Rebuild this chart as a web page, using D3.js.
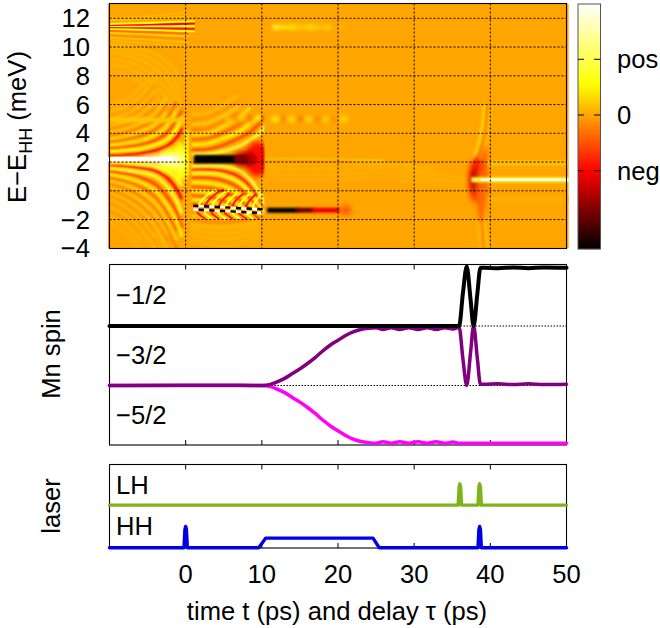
<!doctype html>
<html>
<head>
<meta charset="utf-8">
<title>Mn spin</title>
<style>
  html, body { margin: 0; padding: 0; background: #fff; }
  text { font-family: "Liberation Sans", Arial, sans-serif; fill: #000; }
</style>
</head>
<body>
<div id="chart"></div>
<script src="https://cdn.jsdelivr.net/npm/d3@7"></script>
<script>
// ticks
var timeTicks = [0, 10, 20, 30, 40, 50];
var energyTicks = [12, 10, 8, 6, 4, 2, 0, -2, -4];
var barTicks = [[1, 'pos'], [0, '0'], [-1, 'neg']];

// heat map fringes: [value, E at each t of the grid]
var leftT = [-10, -8, -6, -4, -2.5, -1.2, -0.5];
var leftUp = [
  [-1.0, 2.52, 2.56, 2.63, 2.82, 3.1, 3.7, 4.4],
  [.6, 2.72, 2.8, 2.92, 3.18, 3.55, 4.3, 5.1],
  [-.5, 2.95, 3.05, 3.2, 3.52, 4.0, 4.95, 5.6],
  [.38, 3.18, 3.3, 3.5, 3.88, 4.5, 5.6],
  [-.3, 3.4, 3.55, 3.8, 4.25, 5.0, 6.2],
  [.26, 3.62, 3.8, 4.1, 4.62, 5.5],
  [-.2, 3.85, 4.05, 4.4, 5.0, 6],
  [.18, 4.08, 4.3, 4.7, 5.4, 6.5],
  [-.13, 4.3, 4.55, 5, 5.8],
  [.14, 4.52, 4.8, 5.3, 6.2],
  [-.09, 4.75, 5.05, 5.6, 6.6],
  [.12, 5, 5.3, 5.9, 7],
  [-.07, 5.25, 5.55, 6.2, 7.4],
  [.1, 5.5, 5.8, 6.5, 7.8],
  [.08, 6, 6.3, 7.1, 8.6]
];
var leftDown = [
  [.8, 1.92, 1.9, 1.85, 1.7, 1.4, .9, .3],
  [-1.0, 1.75, 1.7, 1.6, 1.42, .95, .1, -.6],
  [.8, 1.55, 1.46, 1.3, 1.0, .35, -.7, -1.6],
  [-.55, 1.35, 1.2, .95, .45, -.4, -1.5, -2.6],
  [.42, 1.12, .92, .62, .02, -.95, -2.1, -3.2],
  [-.32, .9, .68, .28, -.42, -1.5, -2.8],
  [.26, .68, .42, -.02, -.85, -2.05, -3.5],
  [-.2, .47, .18, -.35, -1.25, -2.5, -4],
  [.18, .27, -.08, -.66, -1.65, -3],
  [-.14, .06, -.32, -.98, -2.05, -3.5],
  [.14, -.15, -.58, -1.3, -2.45, -4],
  [-.1, -.37, -.84, -1.62, -2.85],
  [.11, -.6, -1.1, -1.95, -3.25],
  [-.08, -.84, -1.36, -2.28, -3.65],
  [.09, -1.1, -1.65, -2.6, -4],
  [-.06, -1.4, -1.95, -2.95],
  [.07, -1.7, -2.3, -3.3],
  [.06, -2.2, -2.9, -3.9]
];
// weak arcs hanging under the line near 11.4 meV
var topArcs = [
  [.1, 10.2, 10.1, 9.9, 9.5, 9, 8.2, 7.4],
  [.09, 9.9, 9.8, 9.5, 9, 8.4, 7.4, 6.6],
  [.1, 9.6, 9.45, 9.1, 8.5, 7.8, 6.7, 5.9],
  [.08, 9.2, 9.05, 8.6, 7.9, 7.1, 6, 5.2],
  [.08, 8.8, 8.6, 8.1, 7.3, 6.4, 5.3],
  [.07, 8.35, 8.1, 7.55, 6.7, 5.7]
];

var topT = [-10, -6, -2, 0, 1.2];
var topFan = [
  [.1, 12.05, 12.1, 12.3, 12.4, 12.45],
  [.16, 11.88, 11.95, 12.05, 12.1, 12.12],
  [.6, 11.6, 11.66, 11.75, 11.78, 11.8],
  [-1.0, 11.47, 11.52, 11.59, 11.62, 11.63],
  [.9, 11.4, 11.42, 11.44, 11.46, 11.47],
  [-.85, 11.33, 11.31, 11.29, 11.27, 11.26],
  [.6, 11.24, 11.2, 11.14, 11.1, 11.08],
  [-.3, 11.12, 11.05, 10.98, 10.93, 10.9],
  [.25, 10.98, 10.9, 10.8, 10.75, 10.72],
  [-.12, 10.82, 10.72, 10.6, 10.55, 10.5],
  [.14, 10.65, 10.55, 10.4, 10.33, 10.3],
  [.09, 10.45, 10.3, 10.15, 10.05, 10.0]
];

var rampT = [0.8, 3, 5, 7, 8.5, 9.7, 10.4];
var rampUp = [
  [.9, 2.52, 2.56, 2.75, 3.1, 3.56, 4.0, 4.5],
  [-.55, 2.86, 2.9, 3.2, 3.66, 4.1, 4.7, 5.2],
  [.5, 3.2, 3.3, 3.66, 4.1, 4.7, 5.2],
  [-.35, 3.56, 3.67, 4.06, 4.6, 5.2],
  [.34, 3.9, 4.0, 4.5, 5.1, 5.8],
  [-.2, 4.25, 4.37, 4.85, 5.4],
  [.22, 4.6, 4.75, 5.25, 5.9],
  [-.1, 4.95, 5.1, 5.6, 6.2],
  [.12, 5.3, 5.45, 6, 6.7]
];
var rampDown = [
  [.9, 1.71, 1.76, 1.71, 1.43, .78, -.14, -1],
  [-.8, 1.48, 1.48, 1.36, .97, .27, -.72, -1.4],
  [.7, 1.2, 1.2, 1.06, .6, -.14, -1.07, -1.5],
  [-.55, .9, .9, .71, .2, -.56, -1.42],
  [.5, .6, .55, .32, -.2, -.95, -1.65],
  [-.45, .27, .22, -.04, -.6, -1.35],
  [.45, -.04, -.1, -.37, -.95, -1.65],
  [-.45, -.35, -.43, -.7, -1.3],
  [.45, -.62, -.72, -1, -1.55],
  [-.45, -.9, -1.02, -1.3]
];
// weak arcs under the checked line
var lowT = [0.8, 3, 5, 7, 8.5, 9.7];
var rampLow = [
  [.22, -1.75, -1.85, -1.85, -1.8, -1.7, -1.6],
  [-.14, -2, -2.15, -2.2, -2.1, -2, -1.85],
  [.14, -2.35, -2.5, -2.55, -2.45, -2.3, -2.1],
  [.1, -2.7, -2.9, -2.95, -2.85, -2.65, -2.4],
  [.09, -3.05, -3.3, -3.35, -3.25, -3, -2.75],
  [.08, -3.45, -3.7, -3.8, -3.65, -3.4, -3.1]
];
// arcs crossing the fringes above the checked line: [value, t at each E of the grid]
var crossE = [-1.15, -.8, -.5, -.2, .1];
var crossUp = [
  [.75, 1.6, 1.9, 2.4, 3.1, 4],
  [-.8, 2.5, 2.8, 3.3, 4, 5],
  [.75, 3.4, 3.7, 4.2, 4.9, 5.9],
  [-.8, 4.3, 4.6, 5.1, 5.8],
  [.75, 5.2, 5.5, 6, 6.7],
  [-.8, 6.1, 6.4, 6.9, 7.6],
  [.75, 7, 7.3, 7.8, 8.4],
  [-.8, 7.9, 8.2, 8.7, 9.3],
  [.75, 8.8, 9.1, 9.5, 10]
];
var crossBelowE = [-1.5, -1.7, -1.95];
var crossDown = [
  [-.8, 1.5, 1.9, 2.6], [.7, 2.4, 2.8, 3.5], [-.8, 3.3, 3.7, 4.4],
  [.7, 4.2, 4.6, 5.3], [-.8, 5.1, 5.5, 6.2], [.7, 6, 6.4, 7.1],
  [-.8, 6.9, 7.3, 8], [.7, 7.8, 8.2, 8.9], [-.5, 8.7, 9.1, 9.7]
];

// faint stripes after the ramp and around the second pulse
var postT = [10.3, 14, 18, 22, 26, 30, 33];
var postRows = [
  [.3, 2.2, 2.18, 2.16, 2.14, 2.1],
  [-.3, 2.08, 2.06, 2.04, 2.02],
  [.16, 1.95, 1.9, 1.88, 1.86, 1.85, 1.85],
  [.1, 1.6, 1.5, 1.5, 1.55, 1.6, 1.65, 1.68],
  [.08, 1.2, 1.1, 1.1, 1.2, 1.3, 1.38, 1.42],
  [.07, .8, .7, .72, .84, .98, 1.1, 1.18]
];
var lateT = [28, 31, 33, 35, 36.5];
var lateRows = [
  [.1, 1.35, 1.28, 1.16, .98, .85],
  [.1, .98, .9, .8, .66, .55],
  [.08, .65, .55, .45, .36, .3]
];
var sideE = [-4, -3, -2, -1, 0];
var sideDown = [
  [.2, 39.6, 39.45, 39.3, 39.25, 39.1],
  [-.2, 39.15, 39, 38.85, 38.75, 38.6],
  [.14, 38.7, 38.5, 38.3, 38.15, 38]
];
var sideUpE = [2, 3, 4, 5, 6];
var sideUp = [
  [.32, 37.5, 38.3, 38.8, 39.05, 39.2],
  [-.22, 38.1, 38.8, 39.25, 39.45, 39.6],
  [.14, 38.6, 39.3, 39.7, 39.9, 40]
];

// glows: [t, E, half width in ps, half height in meV, value]
var glows = [
  [-1.5, 2.1, 2.3, .9, .62],
  [-.7, 2, 1, 1.4, .6],
  [-1, 2.1, 1, .45, 1.25],
  [-3, 2.18, 2.6, .28, 1.6],
  [9.4, 2.2, 1.6, 1.2, -.95],
  [7.8, 2.2, 1.6, .55, -1.4],
  [38.2, .75, 1, 1.6, -.85],
  [37.9, .75, .6, .85, -1.3],
  [39.2, .9, .5, 2.2, -.45],
  [38.8, -.4, .6, 1.8, -.35],
  [20.7, 5, .7, .3, .26],
  [21, -1.35, .8, .35, -.45],
  [20.4, 11.4, .5, .2, .12]
];

// spots along the weak lines: [t, E, value]
var spots = [
  [5.6, 5, .22], [6.6, 5, -.22], [7.6, 5, .28], [8.5, 5, -.28], [9.5, 5, .32],
  [11.8, 5, .55], [12.8, 5, -.3], [13.9, 5, .45], [15, 5, -.3], [16.2, 5, .38],
  [17.3, 5, -.28], [18.4, 5, .32], [19.4, 5, -.18],
  [11.9, 11.38, .85], [13, 11.38, .42], [14.1, 11.38, .5], [15.2, 11.38, .3],
  [16.4, 11.38, .45], [17.4, 11.38, .25], [18.6, 11.38, .36]
];

// strong lines: [t start, t end, E, value]
var darkBands = [
  [1.1, 6.8, 2.2, -2.4],
  [6.4, 8.2, 2.2, -1.7],
  [10.7, 15, -1.35, -2.4],
  [14.6, 17, -1.35, -1.8],
  [16.6, 20.2, -1.35, -1.1]
];
var whiteBands = [
  [-10.3, -1.4, 2.2, 2],
  [38.8, 50.5, .77, 2]
];
var yellowBands = [
  [37.5, 39, .77, .9],
  [38.8, 50.5, .77, .7],
  [39.6, 50.5, 1.93, .18],
  [39.6, 50.5, -.6, .06],
  [-10.3, 0, 4.92, .2]
];
var zeroStripe = [[0.15, 1.1, .45], [0.15, 4.2, .45]];

// checked line between the fringes: cell starts, values flip along it
var checkerStarts = [1, 1.7, 2.4, 3.1, 3.8, 4.5, 5.2, 5.9, 6.6, 7.3, 8, 8.7, 9.4];
var checkerEnds = [[1, -1.17], [10.2, -1.42]];

// spin panel
var spinT = [-10, 0, 5, 9.5, 10.5, 11, 12, 13, 14, 15, 16, 17, 18, 19, 20, 21, 22, 23, 24, 25, 25.9, 27, 28.1, 29.3, 30.5, 31.7, 32.9, 34, 35.1, 35.9, 36.4, 36.9, 37.4, 37.8, 38.3, 38.7, 39.2, 41, 43, 45, 47, 50];
var spinDown = [0, 0, 0, 0, -.005, -.015, -.06, -.12, -.2, -.28, -.37, -.47, -.58, -.68, -.76, -.84, -.9, -.94, -.96, -.97, -.945, -.97, -.945, -.97, -.945, -.97, -.945, -.97, -.95, -.97, -.97, -.97, -.97, -.97, -.97, -.97, -.97, -.97, -.97, -.97, -.97, -.97];
var spinMid = [0, .003, .006, 0, .005, .015, .06, .12, .2, .28, .37, .47, .58, .68, .76, .84, .9, .94, .96, .97, .94, .97, .94, .97, .94, .97, .94, .97, .95, .98, .45, 0, .55, 1, .45, .02, .02, .03, .015, .03, .015, .02];
var spinUp = [1, 1, 1, 1, 1, 1, 1, 1, 1, 1, 1, 1, 1, 1, 1, 1, 1, 1, 1, 1, 1, 1, 1, 1, 1, 1, 1, 1, 1, 1, 1.55, 2, 1.45, 1, 1.55, 1.98, 1.98, 1.97, 1.985, 1.97, 1.985, 1.98];
var spinGuides = [0, 1];
var spinLabels = [[1.52, '\u22121/2'], [.51, '\u22123/2'], [-.49, '\u22125/2']];

// laser panel
var hhT = [-10, -.22, -.1, 0, .1, .22, 9.6, 10.5, 24.6, 25.4, 38.38, 38.5, 38.6, 38.7, 38.82, 50];
var hhV = [0, 0, .85, 1, .85, 0, 0, .45, .45, 0, 0, .85, 1, .85, 0, 0];
var lhT = [-10, 35.78, 35.9, 36, 36.1, 36.22, 38.38, 38.5, 38.6, 38.7, 38.82, 50];
var lhV = [2, 2, 2.85, 3, 2.85, 2, 2, 2.85, 3, 2.85, 2, 2];
var laserLabels = [[2.94, 'LH'], [1.02, 'HH']];

var width = 660, height = 628;
var fontSize = 25.6;

var svg = d3.select('#chart').append('svg')
    .attr('width', width)
    .attr('height', height);
var defs = svg.append('defs');

function blur(id, dev) {
  defs.append('filter').attr('id', id)
      .attr('filterUnits', 'userSpaceOnUse')
      .attr('x', 0).attr('y', 0).attr('width', width).attr('height', height)
      .append('feGaussianBlur').attr('stdDeviation', dev);
}
blur('tiny', .45);
blur('mid', .7);
blur('soft', 1.05);
blur('wide', 2.6);
blur('spot', 2);

// Scale
var x = d3.scaleLinear().domain([-10, 50]).range([109.5, 566.5]);
var yE = d3.scaleLinear().domain([12, -4]).range([18.3, 248.3]);
var ySpin = d3.scaleLinear().domain([0, 1]).range([385.5, 326]);
var yLaser = d3.scaleLinear().domain([0, 1]).range([547.7, 526.4]);
var yBar = d3.scaleLinear().domain([0, 1]).range([115, 59.3]);
var heat = d3.scaleLinear()
    .domain([-2.4, -1, 0, .55, 2])
    .range(['#000000', '#ff0000', '#ffa500', '#ffff00', '#ffffff'])
    .clamp(true);

var heatTop = 3.5, heatBottom = 248.5;
var panel2Top = 264.5, panel2Bottom = 445;
var panel3Top = 464.5, panel3Bottom = 548;

function clip(id, t0, t1) {
  defs.append('clipPath').attr('id', id).append('rect')
      .attr('x', x(t0)).attr('y', heatTop)
      .attr('width', x(t1) - x(t0)).attr('height', heatBottom - heatTop);
}
clip('all', -10.25, 50.3);
clip('before', -10.25, .4);
clip('ramp', .3, 10.35);
clip('after', 10.2, 50.3);

// Heat map
var map = svg.append('g').attr('clip-path', 'url(#all)');
map.append('rect')
    .attr('x', x(-10.25)).attr('y', heatTop)
    .attr('width', x(50.3) - x(-10.25)).attr('height', heatBottom - heatTop)
    .attr('fill', heat(0));

var line = d3.line()
    .x(function(d) { return x(d[0]); })
    .y(function(d) { return yE(d[1]); })
    .curve(d3.curveCatmullRom);

function fringes(clipId, grid, rows, w, filter) {
  var g = map.append('g').attr('clip-path', 'url(#' + clipId + ')')
      .append('g').attr('filter', 'url(#' + (filter || 'soft') + ')');
  g.selectAll('path').data(rows).enter().append('path')
      .attr('d', function(r) {
        return line(r.slice(1).map(function(e, i) { return [grid[i], e]; }));
      })
      .attr('fill', 'none')
      .attr('stroke', function(r) { return heat(r[0]); })
      .attr('stroke-width', w);
}
function arcs(clipId, grid, rows, w, filter) {
  var g = map.append('g').attr('clip-path', 'url(#' + clipId + ')')
      .append('g').attr('filter', 'url(#' + (filter || 'soft') + ')');
  g.selectAll('path').data(rows).enter().append('path')
      .attr('d', function(r) {
        return line(r.slice(1).map(function(t, i) { return [t, grid[i]]; }));
      })
      .attr('fill', 'none')
      .attr('stroke', function(r) { return heat(r[0]); })
      .attr('stroke-width', w);
}

fringes('before', leftT, topArcs, 3);
fringes('before', leftT, leftUp, 3.2);
fringes('before', leftT, leftDown, 3.2);
fringes('before', topT, topFan, 1.9, 'tiny');
fringes('ramp', topT, topFan.slice(2, 7), 1.7, 'tiny');

fringes('ramp', rampT, rampUp, 3);
fringes('ramp', rampT, rampDown, 3);
fringes('ramp', lowT, rampLow, 3);
arcs('ramp', crossE, crossUp, 2.2, 'mid');
arcs('ramp', crossBelowE, crossDown, 2.2, 'mid');

fringes('after', postT, postRows, 1.6);
fringes('after', lateT, lateRows, 1.8);
arcs('after', sideE, sideDown, 2);
arcs('after', sideUpE, sideUp, 2.4);

// glows, those left of the first pulse and inside the ramp are cut at the edges
function glowGroup(clipId, rows) {
  var g = map.append('g').attr('clip-path', 'url(#' + clipId + ')')
      .append('g').attr('filter', 'url(#wide)');
  g.selectAll('ellipse').data(rows).enter().append('ellipse')
      .attr('cx', function(d) { return x(d[0]); })
      .attr('cy', function(d) { return yE(d[1]); })
      .attr('rx', function(d) { return x(d[2]) - x(0); })
      .attr('ry', function(d) { return yE(0) - yE(d[3]); })
      .attr('fill', function(d) { return heat(d[4]); });
}
glowGroup('before', glows.slice(0, 4));
glowGroup('ramp', glows.slice(4, 6));
glowGroup('after', glows.slice(6));

var spotG = map.append('g').attr('filter', 'url(#spot)');
spotG.selectAll('ellipse').data(spots).enter().append('ellipse')
    .attr('cx', function(d) { return x(d[0]); })
    .attr('cy', function(d) { return yE(d[1]); })
    .attr('rx', 4.4)
    .attr('ry', 2.4)
    .attr('fill', function(d) { return heat(d[2]); });

function bands(rows, w, filter) {
  map.append('g').attr('filter', 'url(#' + filter + ')')
      .selectAll('line').data(rows).enter().append('line')
      .attr('x1', function(d) { return x(d[0]); })
      .attr('x2', function(d) { return x(d[1]); })
      .attr('y1', function(d) { return yE(d[2]); })
      .attr('y2', function(d) { return yE(d[2]); })
      .attr('stroke', function(d) { return heat(d[3]); })
      .attr('stroke-width', w);
}
bands(yellowBands, 5, 'soft');
bands(whiteBands.slice(0, 1), 5, 'tiny');
bands(whiteBands.slice(1), 2.6, 'tiny');
bands(darkBands.slice(0, 2), 8.4, 'soft');
bands(darkBands.slice(2), 5, 'soft');

map.append('path')
    .attr('d', d3.line().x(function(d) { return x(d[0]); }).y(function(d) { return yE(d[1]); })(zeroStripe))
    .attr('stroke', heat(zeroStripe[0][2]))
    .attr('stroke-width', 3.4)
    .attr('filter', 'url(#soft)');

// checked line
var checkerE = d3.scaleLinear()
    .domain(checkerEnds.map(function(d) { return d[0]; }))
    .range(checkerEnds.map(function(d) { return d[1]; }));
var checker = map.append('g').attr('filter', 'url(#mid)').attr('stroke-width', 2.4);
[[0, .13], [1, -.13]].forEach(function(row) {
  checker.append('g').selectAll('line').data(checkerStarts).enter().append('line')
      .attr('x1', function(t) { return x(t); })
      .attr('x2', function(t) { return x(t + .7); })
      .attr('y1', function(t) { return yE(checkerE(t) + row[1]); })
      .attr('y2', function(t) { return yE(checkerE(t + .7) + row[1]); })
      .attr('stroke', function(t, i) { return (i + row[0]) % 2 ? '#fff' : '#000'; });
});

// grid
var grid = svg.append('g')
    .attr('stroke', '#000')
    .attr('stroke-width', 1)
    .attr('stroke-dasharray', '2,2');
grid.selectAll('.h').data(energyTicks.slice(0, -1)).enter().append('line')
    .attr('class', 'h')
    .attr('x1', x(-10)).attr('x2', x(50))
    .attr('y1', function(d) { return yE(d); })
    .attr('y2', function(d) { return yE(d); });
grid.selectAll('.v').data(timeTicks.slice(0, -1)).enter().append('line')
    .attr('class', 'v')
    .attr('x1', function(d) { return x(d); })
    .attr('x2', function(d) { return x(d); })
    .attr('y1', heatTop).attr('y2', heatBottom);

function frame(top, bottom) {
  svg.append('rect')
      .attr('x', x(-10)).attr('y', top)
      .attr('width', x(50) - x(-10)).attr('height', bottom - top)
      .attr('fill', 'none')
      .attr('stroke', '#000')
      .attr('stroke-width', 1.1);
}
frame(heatTop, heatBottom);

// Axis labels of the heat map
svg.append('g').selectAll('text').data(energyTicks).enter().append('text')
    .attr('x', 90)
    .attr('y', function(d) { return yE(d) + 9; })
    .attr('text-anchor', 'end')
    .attr('font-size', fontSize)
    .text(function(d) { return d < 0 ? '\u2212' + (-d) : d; });

var eLabel = svg.append('text')
    .attr('transform', 'translate(26,127) rotate(-90)')
    .attr('text-anchor', 'middle')
    .attr('font-size', fontSize);
eLabel.append('tspan').text('E\u2212E');
eLabel.append('tspan').attr('dy', 6).attr('font-size', 18).text('HH');
eLabel.append('tspan').attr('dy', -6).text(' (meV)');

// Colour bar
var barRows = d3.range(4, 249, 1);
svg.append('g').selectAll('rect').data(barRows).enter().append('rect')
    .attr('x', 578).attr('y', function(d) { return d; })
    .attr('width', 22).attr('height', 1.2)
    .attr('fill', function(d) { return heat(yBar.invert(d + .5)); });
svg.append('rect')
    .attr('x', 578).attr('y', 4).attr('width', 22.5).attr('height', 245)
    .attr('fill', 'none').attr('stroke', '#555').attr('stroke-width', 1);
barTicks.forEach(function(d) {
  var g = svg.append('g').attr('stroke', '#000').attr('stroke-width', 1);
  g.append('line').attr('x1', 578).attr('x2', 584).attr('y1', yBar(d[0])).attr('y2', yBar(d[0]));
  g.append('line').attr('x1', 594).attr('x2', 600.5).attr('y1', yBar(d[0])).attr('y2', yBar(d[0]));
  svg.append('text')
      .attr('x', 617)
      .attr('y', yBar(d[0]) + 9)
      .attr('font-size', fontSize)
      .text(d[1]);
});

// Ticks of the two lower panels
function timeMarks(top, bottom) {
  var marks = svg.append('g').attr('stroke', '#000').attr('stroke-width', 1);
  timeTicks.slice(0, -1).forEach(function(d) {
    marks.append('line').attr('x1', x(d)).attr('x2', x(d)).attr('y1', top).attr('y2', top + 5);
    marks.append('line').attr('x1', x(d)).attr('x2', x(d)).attr('y1', bottom).attr('y2', bottom - 5);
  });
}

// Spin panel
svg.append('g')
    .attr('stroke', '#000').attr('stroke-width', 1).attr('stroke-dasharray', '1.5,1.5')
    .selectAll('line').data(spinGuides).enter().append('line')
    .attr('x1', x(-10)).attr('x2', x(50))
    .attr('y1', function(d) { return ySpin(d); })
    .attr('y2', function(d) { return ySpin(d); });
frame(panel2Top, panel2Bottom);
timeMarks(panel2Top, panel2Bottom);

var spinLine = d3.line()
    .x(function(d) { return x(d[0]); })
    .y(function(d) { return ySpin(d[1]); })
    .curve(d3.curveMonotoneX);
[[spinDown, '#ff00ff', 3.5], [spinMid, '#800080', 3.5], [spinUp, '#000000', 4]].forEach(function(s) {
  svg.append('path')
      .datum(d3.zip(spinT, s[0]))
      .attr('d', spinLine)
      .attr('fill', 'none')
      .attr('stroke', s[1])
      .attr('stroke-width', s[2])
      .attr('stroke-linecap', 'round');
});
svg.append('g').selectAll('text').data(spinLabels).enter().append('text')
    .attr('x', 116)
    .attr('y', function(d) { return ySpin(d[0]) + 9; })
    .attr('font-size', fontSize)
    .text(function(d) { return d[1]; });
svg.append('text')
    .attr('transform', 'translate(60,354) rotate(-90)')
    .attr('text-anchor', 'middle')
    .attr('font-size', fontSize)
    .text('Mn spin');

// Laser panel
frame(panel3Top, panel3Bottom);
timeMarks(panel3Top, panel3Bottom);
var laserLine = d3.line()
    .x(function(d) { return x(d[0]); })
    .y(function(d) { return yLaser(d[1]); });
[[lhT, lhV, '#7fb31a'], [hhT, hhV, '#0000e6']].forEach(function(s) {
  svg.append('path')
      .datum(d3.zip(s[0], s[1]))
      .attr('d', laserLine)
      .attr('fill', 'none')
      .attr('stroke', s[2])
      .attr('stroke-width', 3.4)
      .attr('stroke-linecap', 'round')
      .attr('stroke-linejoin', 'round');
});
svg.append('g').selectAll('text').data(laserLabels).enter().append('text')
    .attr('x', 116)
    .attr('y', function(d) { return yLaser(d[0]) + 9; })
    .attr('font-size', fontSize)
    .text(function(d) { return d[1]; });
svg.append('text')
    .attr('transform', 'translate(60,506) rotate(-90)')
    .attr('text-anchor', 'middle')
    .attr('font-size', fontSize)
    .text('laser');

// x axis labels
svg.append('g').selectAll('text').data(timeTicks).enter().append('text')
    .attr('x', function(d) { return x(d); })
    .attr('y', 583)
    .attr('text-anchor', 'middle')
    .attr('font-size', fontSize)
    .text(function(d) { return d; });
svg.append('text')
    .attr('x', 337)
    .attr('y', 620)
    .attr('text-anchor', 'middle')
    .attr('font-size', fontSize)
    .text('time t (ps) and delay \u03c4 (ps)');
</script>
</body>
</html>
